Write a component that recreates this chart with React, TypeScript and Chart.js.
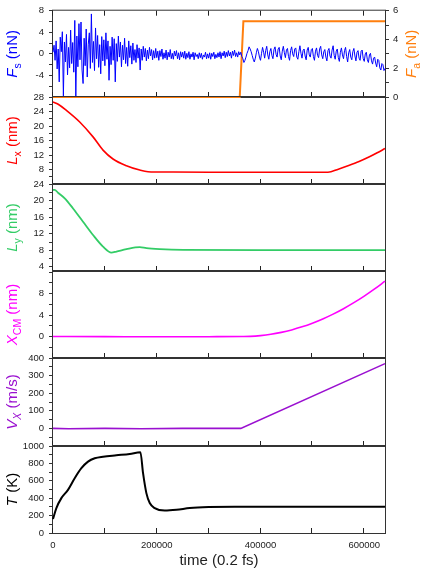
import React, { useEffect, useRef } from "react";
import { Chart, registerables } from "chart.js";

Chart.register(...registerables);

// ---------------- data ----------------
const X_MIN = 0;
const X_MAX = 640000;
const xTickValues = [0, 100000, 200000, 300000, 400000, 500000, 600000];
const xTickLabels = ["0", "", "200000", "", "400000", "", "600000"];

// shear force F_s (nN), sampled every FS_STEP
const FS_STEP = 2000;
const fsValues = [
  0.3, 1.6, -1.2, 2.4, -2.8, 0.9, -5.2, 3.1, 0.4, 4.1,
  -7.8, 2.2, -1.5, 3.6, -3.9, 1.2, -2.6, 4.4, -1.8, 2.1,
  -3.4, 6.2, -8.0, 3.3, -2.4, 5.6, -1.1, 5.9, -3.0, -5.5,
  2.9, -2.2, 4.6, -4.3, 1.8, 3.9, -2.7, 7.4, -1.6, 2.3,
  -3.1, 4.8, -0.9, 3.4, -2.5, 1.7, -3.7, 3.2, -1.3, 2.6,
  -2.2, 3.9, -1.0, 2.4, -4.9, 1.4, -2.0, 3.1, -1.2, 2.8,
  -5.2, 1.9, -1.4, 3.3, -0.6, 2.2, -2.4, 1.6, -1.1, 2.9,
  -1.8, 1.2, -2.3, 2.4, -0.7, 1.5, -1.9, 2.0, -1.2, 0.8,
  -1.6, 1.7, -0.8, 1.1, -3.0, 0.9, -1.2, 1.4, -0.6, 1.0,
  -1.3, 0.7, -0.9, 1.2, -0.4, 0.8, -1.1, 0.6, -0.8, 1.0,
  -0.7, 0.5, -1.2, 0.6, -0.5, 0.9, -1.0, 0.2, -0.8, 0.7,
  -1.1, 0.3, -0.6, 0.8, -0.9, 0.1, -1.0, 0.5, -0.4, 0.6,
  -0.9, 0.2, -1.1, 0.4, -0.6, 0.3, -0.8, 0.5, -1.0, 0.1,
  -0.7, 0.4, -1.0, 0.0, -0.6, 0.3, -1.1, 0.2, -0.5, -0.1,
  -0.9, 0.2, -0.7, 0.1, -1.0, -0.2, -0.6, 0.3, -0.9, 0.0,
  -0.8, 0.2, -1.0, 0.1, -0.5, 0.3, -0.9, -0.1, -0.7, 0.2,
  -0.6, 0.4, -0.9, 0.2, -0.4, 0.5, -0.7, 0.3, -0.5, 0.6,
  -0.4, 0.3, -0.8, 0.5, -0.3, 0.7, -0.5, 0.2, -0.6, 0.4,
  -0.2, 0.3, -0.5, -0.9, -1.6, -1.2, -0.6, 0.1, 0.6, 1.3,
  0.9, 0.4, -0.3, -1.0, -1.5, -0.8, 0.2, 1.0, 0.4, -0.6,
  -1.2, 0.1, 1.2, 0.3, -0.8, 0.6, 1.4, -0.2, -1.0, 0.4,
  1.0, -0.3, -0.9, 0.8, 1.3, -0.1, -0.6, 0.9, 1.2, -0.4,
  -1.1, 0.5, 1.4, 0.2, -0.7, 0.7, 1.0, -0.5, -1.2, 0.6,
  1.3, 0.0, -0.5, 0.9, 1.1, -0.6, -1.0, 0.4, 1.5, 0.1,
  -0.8, 0.6, 0.9, -0.4, -1.1, 0.7, 1.2, -0.2, -0.6, 0.8,
  1.0, -0.5, -1.2, 0.5, 1.1, -0.3, -0.7, 0.9, 1.4, -0.2,
  -0.9, 0.4, 0.8, -0.6, -1.3, 0.6, 1.0, -0.4, -0.8, 0.7,
  1.5, -0.3, -1.0, 0.5, 0.9, -0.7, -1.4, 0.3, 1.1, -0.2,
  -0.9, 0.6, 1.2, -0.5, -1.5, 0.2, 0.8, -0.6, -1.1, 0.4,
  1.0, -0.4, -1.3, 0.3, 0.6, -0.8, -1.2, 0.5, 0.7, -0.9,
  -1.4, 0.0, 0.3, -1.1, -1.6, -0.2, 0.1, -1.3, -1.9, -0.8,
  -0.6, -1.7, -2.4, -1.0, -1.2, -2.6, -3.0, -1.8, -2.0, -3.1,
  -2.7,
];

// applied force F_a (nN)
const faTime = [0, 360000, 367000, 640000];
const faValues = [0, 0, 5.27, 5.27];

// L_x (nm)
const lxTime = [0, 10000, 25800, 51500, 77200, 96400, 115700, 141500, 167200, 183200, 220000, 300000, 400000, 530000, 550000, 570000, 590000, 610000, 625000, 640000];
const lxValues = [26.6, 26.0, 24.3, 21.1, 17.0, 13.35, 10.9, 9.05, 7.86, 7.4, 7.3, 7.25, 7.25, 7.25, 8.1, 9.1, 10.2, 11.5, 12.6, 13.8];

// L_y (nm)
const lyTime = [0, 3000, 9700, 22600, 38600, 57900, 77200, 96400, 112600, 122300, 141600, 167300, 180100, 205800, 250800, 400000, 640000];
const lyValues = [22.55, 22.6, 21.9, 20.55, 18.1, 14.9, 11.7, 8.9, 7.45, 7.7, 8.27, 8.75, 8.5, 8.27, 8.1, 8.05, 8.05];

// X_CM (nm)
const xcmTime = [0, 100000, 200000, 300000, 365000, 380000, 400000, 420000, 440000, 460000, 480000, 500000, 520000, 540000, 560000, 580000, 600000, 620000, 640000];
const xcmValues = [0, -0.02, -0.05, -0.03, 0, 0.03, 0.17, 0.41, 0.77, 1.23, 1.8, 2.48, 3.27, 4.17, 5.18, 6.3, 7.52, 8.86, 10.3];

// V_X (m/s)
const vxTime = [0, 30000, 100000, 170000, 250000, 362000, 640000];
const vxValues = [0, -2, 0, -2, 0, 0, 368];

// T (K)
const tTime = [0, 6500, 16100, 28900, 41800, 54700, 67500, 80400, 96500, 122200, 147900, 168500, 173600, 180000, 186500, 196100, 215400, 238000, 263600, 300000, 350000, 640000];
const tValues = [160, 286, 401, 496, 630, 745, 820, 859, 877, 893, 908, 928, 687, 458, 344, 286, 259, 267, 286, 298, 303, 302];

// y tick lists (all tick marks) and labelled ticks
const fsTicks = [-8, -6, -4, -2, 0, 2, 4, 6, 8];
const fsLabels = [8, 4, 0, -4];
const faTicks = [0, 1, 2, 3, 4, 5, 6];
const faLabels = [0, 2, 4, 6];
const lxTicks = [4, 6, 8, 10, 12, 14, 16, 18, 20, 22, 24, 26, 28];
const lxLabels = [8, 12, 16, 20, 24, 28];
const lyTicks = [4, 6, 8, 10, 12, 14, 16, 18, 20, 22, 24];
const lyLabels = [4, 8, 12, 16, 20, 24];
const xcmTicks = [-4, -2, 0, 2, 4, 6, 8, 10, 12];
const xcmLabels = [0, 4, 8];
const vxTicks = [-100, -50, 0, 50, 100, 150, 200, 250, 300, 350, 400];
const vxLabels = [0, 100, 200, 300, 400];
const tTicks = [0, 100, 200, 300, 400, 500, 600, 700, 800, 900, 1000];
const tLabels = [0, 200, 400, 600, 800, 1000];

// ---------------- style / layout ----------------
const W = 425;
const H = 572;
const PLOT_LEFT = 53;
const PLOT_RIGHT = 385;
const PANEL_EDGES = [10, 97, 184, 271, 358, 446, 533];
const FONT = '"Liberation Sans", Arial, Helvetica, sans-serif';
const TEXT = "#222222";
const FRAME = "#333333";
const TICK_FONT = 9.5;
const TITLE_FONT = 15;
const LEFT_TITLE_X = 17;
const RIGHT_TITLE_X = 416;
const INNER_TICK = 5;

type Part = { t: string; i?: boolean; s?: boolean };

const pts = (xs: number[], ys: number[]) => xs.map((x, k) => ({ x, y: ys[k] }));

interface PanelDef {
  datasets: any[];
  min: number;
  max: number;
  ticks: number[];
  labels: number[];
  title: Part[];
  color: string;
  right?: { min: number; max: number; ticks: number[]; labels: number[]; title: Part[]; color: string };
}

const PANELS: PanelDef[] = [
  {
    datasets: [
      { data: fsValues.map((y, k) => ({ x: k * FS_STEP, y })), borderColor: "#0000ff", borderWidth: 1, yAxisID: "y", tension: 0 },
      { data: pts(faTime, faValues), borderColor: "#ff7f0e", borderWidth: 2, yAxisID: "yR", tension: 0 },
    ],
    min: -8, max: 8, ticks: fsTicks, labels: fsLabels,
    title: [{ t: "F", i: true }, { t: "s", s: true }, { t: " (nN)" }],
    color: "#0000ff",
    right: { min: 0, max: 6, ticks: faTicks, labels: faLabels, title: [{ t: "F", i: true }, { t: "a", s: true }, { t: " (nN)" }], color: "#ff7f0e" },
  },
  {
    datasets: [{ data: pts(lxTime, lxValues), borderColor: "#ff0000", borderWidth: 1.6, yAxisID: "y", cubicInterpolationMode: "monotone" }],
    min: 4, max: 28, ticks: lxTicks, labels: lxLabels,
    title: [{ t: "L", i: true }, { t: "x", s: true }, { t: " (nm)" }],
    color: "#ff0000",
  },
  {
    datasets: [{ data: pts(lyTime, lyValues), borderColor: "#33cc66", borderWidth: 1.8, yAxisID: "y", cubicInterpolationMode: "monotone" }],
    min: 3, max: 24, ticks: lyTicks, labels: lyLabels,
    title: [{ t: "L", i: true }, { t: "y", s: true }, { t: " (nm)" }],
    color: "#33cc66",
  },
  {
    datasets: [{ data: pts(xcmTime, xcmValues), borderColor: "#ff00ff", borderWidth: 1.6, yAxisID: "y", cubicInterpolationMode: "monotone" }],
    min: -4, max: 12.2, ticks: xcmTicks, labels: xcmLabels,
    title: [{ t: "X", i: true }, { t: "CM", s: true }, { t: " (nm)" }],
    color: "#ff00ff",
  },
  {
    datasets: [{ data: pts(vxTime, vxValues), borderColor: "#9a10d0", borderWidth: 1.6, yAxisID: "y", tension: 0 }],
    min: -100, max: 400, ticks: vxTicks, labels: vxLabels,
    title: [{ t: "V", i: true }, { t: "X", s: true, i: true }, { t: " (m/s)" }],
    color: "#9a10d0",
  },
  {
    datasets: [{ data: pts(tTime, tValues), borderColor: "#000000", borderWidth: 2, yAxisID: "y", cubicInterpolationMode: "monotone" }],
    min: 0, max: 1000, ticks: tTicks, labels: tLabels,
    title: [{ t: "T", i: true }, { t: " (K)" }],
    color: "#000000",
  },
];

function drawRotated(ctx: CanvasRenderingContext2D, parts: Part[], color: string, x: number, y: number) {
  const SUB = TITLE_FONT * 0.7;
  const fontOf = (p: Part) => `${p.i ? "italic " : ""}${p.s ? SUB : TITLE_FONT}px ${FONT}`;
  ctx.save();
  ctx.translate(x, y);
  ctx.rotate(-Math.PI / 2);
  ctx.fillStyle = color;
  ctx.textAlign = "left";
  ctx.textBaseline = "alphabetic";
  let w = 0;
  for (const p of parts) {
    ctx.font = fontOf(p);
    w += ctx.measureText(p.t).width;
  }
  let cx = -w / 2;
  for (const p of parts) {
    ctx.font = fontOf(p);
    ctx.fillText(p.t, cx, p.s ? TITLE_FONT * 0.25 : 0);
    cx += ctx.measureText(p.t).width;
  }
  ctx.restore();
}

function buildConfig(idx: number): any {
  const p = PANELS[idx];
  const top = PANEL_EDGES[idx];
  const bottom = PANEL_EDGES[idx + 1];
  const isLast = idx === PANELS.length - 1;
  const tickFont = { family: FONT, size: TICK_FONT };

  const yAxis = (min: number, max: number, ticks: number[], labels: number[], position: string, width: number) => ({
    type: "linear",
    position,
    min,
    max,
    afterBuildTicks: (s: any) => {
      s.ticks = ticks.map((v) => ({ value: v }));
    },
    afterFit: (s: any) => {
      s.width = width;
    },
    grid: { drawOnChartArea: false, drawTicks: true, tickLength: 4, color: FRAME, lineWidth: 1 },
    border: { display: false },
    ticks: {
      autoSkip: false,
      padding: 5,
      color: TEXT,
      font: tickFont,
      callback: (v: number) => (labels.includes(v) ? String(v) : ""),
    },
  });

  const scales: any = {
    x: {
      type: "linear",
      position: "bottom",
      min: X_MIN,
      max: X_MAX,
      afterBuildTicks: (s: any) => {
        s.ticks = xTickValues.map((v) => ({ value: v }));
      },
      afterFit: (s: any) => {
        s.height = isLast ? H - bottom : 0;
      },
      grid: { drawOnChartArea: false, drawTicks: false, color: FRAME, lineWidth: 1 },
      border: { display: false },
      ticks: {
        display: isLast,
        autoSkip: false,
        maxRotation: 0,
        minRotation: 0,
        padding: 7,
        color: TEXT,
        font: tickFont,
        callback: (v: number) => {
          const k = xTickValues.indexOf(v);
          return k >= 0 ? xTickLabels[k] : "";
        },
      },
      title: {
        display: isLast,
        text: "time (0.2 fs)",
        color: TEXT,
        font: { family: FONT, size: TITLE_FONT },
        padding: { top: 0, bottom: 2 },
      },
    },
    y: yAxis(p.min, p.max, p.ticks, p.labels, "left", PLOT_LEFT),
  };
  if (p.right) {
    const r = p.right;
    scales.yR = yAxis(r.min, r.max, r.ticks, r.labels, "right", W - PLOT_RIGHT);
    scales.yR.ticks.padding = 4;
  }

  const framePlugin = {
    id: "frame",
    beforeDatasetsDraw(chart: any) {
      const { ctx, chartArea: a } = chart;
      ctx.save();
      ctx.strokeStyle = FRAME;
      ctx.lineWidth = 1;
      ctx.strokeRect(a.left - 0.5, a.top - 0.5, a.right - a.left + 1, a.bottom - a.top + 1);
      ctx.restore();
    },
  };
  // titles (with italics / subscripts) and inward-pointing x tick marks
  const overlayPlugin = {
    id: "overlay",
    afterDraw(chart: any) {
      const { ctx, chartArea: a } = chart;
      const xs = chart.scales.x;
      ctx.save();
      ctx.strokeStyle = TEXT;
      ctx.lineWidth = 1;
      ctx.beginPath();
      for (const v of xTickValues) {
        const px = Math.round(xs.getPixelForValue(v)) - 0.5;
        ctx.moveTo(px, a.bottom);
        ctx.lineTo(px, a.bottom - INNER_TICK);
        if (idx === 0) {
          ctx.moveTo(px, a.top);
          ctx.lineTo(px, a.top + INNER_TICK);
        }
      }
      ctx.stroke();
      ctx.restore();
      const cy = (a.top + a.bottom) / 2;
      drawRotated(ctx, p.title, p.color, LEFT_TITLE_X, cy);
      if (p.right) drawRotated(ctx, p.right.title, p.right.color, RIGHT_TITLE_X, cy);
    },
  };

  return {
    type: "line",
    data: {
      datasets: p.datasets.map((d) => ({ ...d, pointRadius: 0, fill: false, clip: 4 })),
    },
    options: {
      responsive: false,
      maintainAspectRatio: false,
      animation: false,
      devicePixelRatio: 1,
      events: [],
      layout: {
        padding: {
          left: 0,
          right: p.right ? 0 : W - PLOT_RIGHT,
          top,
          bottom: isLast ? 0 : H - bottom,
        },
      },
      plugins: { legend: { display: false }, tooltip: { enabled: false } },
      scales,
    },
    plugins: [framePlugin, overlayPlugin],
  };
}

function Panel({ idx }: { idx: number }) {
  const ref = useRef<HTMLCanvasElement>(null);
  useEffect(() => {
    const chart = new Chart(ref.current as HTMLCanvasElement, buildConfig(idx));
    return () => chart.destroy();
  }, [idx]);
  return (
    <canvas
      ref={ref}
      width={W}
      height={H}
      style={{ position: "absolute", left: 0, top: 0, width: W, height: H }}
    />
  );
}

export default function App() {
  return (
    <div style={{ position: "absolute", left: 0, top: 0, width: W, height: H, background: "#ffffff", overflow: "hidden" }}>
      {PANELS.map((_, i) => (
        <Panel key={i} idx={i} />
      ))}
    </div>
  );
}
